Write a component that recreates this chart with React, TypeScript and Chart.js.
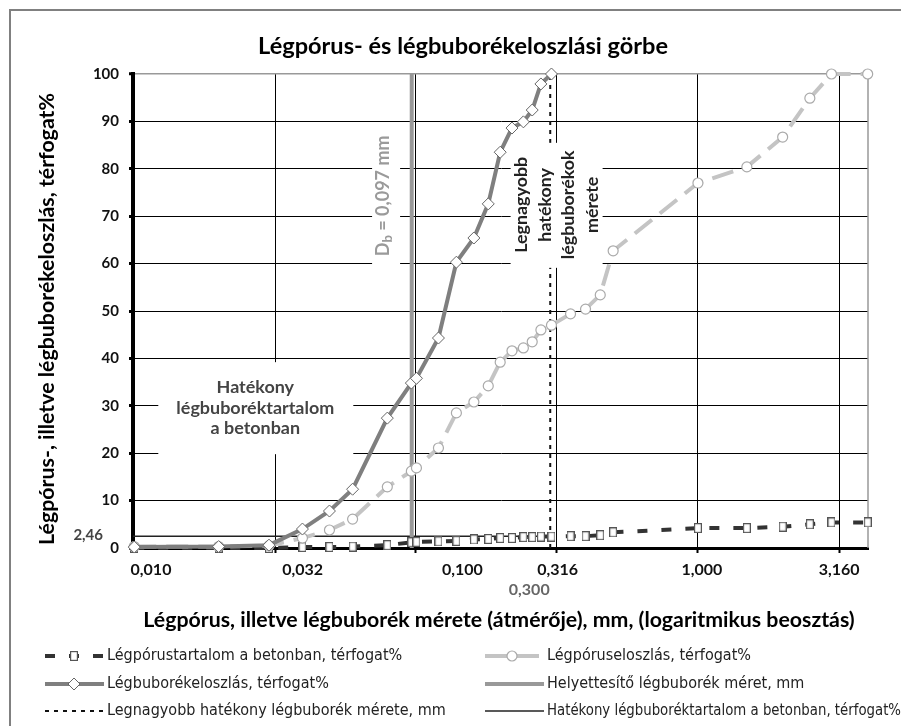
import React, { useEffect, useRef } from 'react';
import { Chart, registerables } from 'chart.js';

Chart.register(...registerables);

// ---------- data ----------
const poreSizes = [0.0101, 0.0201, 0.0303, 0.0398, 0.0496, 0.0599, 0.0795, 0.0967, 0.1008, 0.1206, 0.1396, 0.161, 0.181, 0.1995, 0.2196, 0.241, 0.259, 0.278, 0.303, 0.354, 0.40, 0.451, 0.501, 1.0, 1.49, 1.995, 2.49, 2.97, 3.99];
const poreContent = [0, 0, 0, 0.2, 0.2, 0.3, 0.6, 1.2, 1.3, 1.4, 1.5, 1.8, 1.9, 2.1, 2.1, 2.3, 2.3, 2.4, 2.4, 2.5, 2.5, 2.7, 3.3, 4.2, 4.2, 4.5, 5.0, 5.4, 5.4];
const poreDistribution = [0.3, 0.3, 0.5, 2.1, 3.8, 6.1, 12.9, 16.2, 16.9, 21.1, 28.5, 30.8, 34.2, 39.2, 41.6, 42.2, 43.5, 46.0, 47.0, 49.4, 50.4, 53.4, 62.7, 77.0, 80.4, 86.7, 94.9, 100, 100];
const bubbleSizes = [0.0101, 0.0201, 0.0303, 0.0398, 0.0496, 0.0599, 0.0795, 0.0967, 0.1008, 0.1206, 0.1396, 0.161, 0.181, 0.1995, 0.2196, 0.241, 0.259, 0.278, 0.303];
const bubbleDistribution = [0.2, 0.3, 0.6, 4.0, 7.8, 12.4, 27.4, 34.8, 35.8, 44.3, 60.3, 65.4, 72.6, 83.5, 88.6, 89.9, 92.4, 97.9, 100];
const substituteSize = 0.097; // D_b, mm
const maxEffectiveSize = 0.3; // mm
const effectiveContent = 2.46; // térfogat%
const effectiveRange = [0.01, 0.3];

const xTickValues = [0.01, 0.032, 0.1, 0.316, 1, 3.16];
const xTickLabels = ['0,010', '0,032', '0,100', '0,316', '1,000', '3,160'];
const yTickStep = 10;

const seriesLabels = [
  'Légpórustartalom a betonban, térfogat%',
  'Légpóruseloszlás, térfogat%',
  'Légbuborékeloszlás, térfogat%',
  'Helyettesítő légbuborék méret, mm',
  'Legnagyobb hatékony légbuborék mérete, mm',
  'Hatékony légbuboréktartalom a betonban, térfogat%',
];

const titleText = 'Légpórus- és légbuborékeloszlási görbe';
const yTitleText = 'Légpórus-, illetve légbuborékeloszlás, térfogat%';
const xTitleText = 'Légpórus, illetve légbuborék mérete (átmérője), mm, (logaritmikus beosztás)';
const effectiveContentLines = ['Hatékony', 'légbuboréktartalom', 'a betonban'];
const maxSizeLines = ['Legnagyobb', 'hatékony', 'légbuborékok', 'mérete'];

// ---------- style / layout ----------
const FONT = 'Lato, "Open Sans", "DejaVu Sans", sans-serif';
const LEG_FONT = '"Liberation Sans Narrow", "DejaVu Sans Condensed", "Noto Sans", sans-serif';
const xLabelShift = [18, 27, 47, 1, 4, 0];
const DOTTED_INDEX = 4;

function fitFont(ctx: CanvasRenderingContext2D, text: string, target: number, weight = 'bold', family = FONT) {
  ctx.font = `${weight} 20px ${family}`;
  const w = ctx.measureText(text).width || 1;
  const size = (20 * target) / w;
  ctx.font = `${weight} ${size}px ${family}`;
  return size;
}

function makeRectMarker(w: number, h: number, stroke: string) {
  const c = document.createElement('canvas');
  c.width = w;
  c.height = h;
  const g = c.getContext('2d')!;
  g.fillStyle = '#fff';
  g.fillRect(0, 0, w, h);
  g.strokeStyle = stroke;
  g.lineWidth = 1.2;
  g.strokeRect(0.6, 0.6, w - 1.2, h - 1.2);
  return c;
}

function drawMarker(ctx: CanvasRenderingContext2D, ds: any, x: number, y: number) {
  const st = ds.pointStyle;
  const r = ds.pointRadius || 0;
  if (!r) return;
  if (st && typeof st !== 'string') {
    ctx.drawImage(st, x - st.width / 2, y - st.height / 2);
    return;
  }
  ctx.save();
  ctx.fillStyle = ds.pointBackgroundColor || '#fff';
  ctx.strokeStyle = ds.pointBorderColor || '#666';
  ctx.lineWidth = ds.pointBorderWidth || 1;
  ctx.setLineDash([]);
  ctx.beginPath();
  if (st === 'rectRot') {
    ctx.moveTo(x, y - r);
    ctx.lineTo(x + r, y);
    ctx.lineTo(x, y + r);
    ctx.lineTo(x - r, y);
    ctx.closePath();
  } else {
    ctx.arc(x, y, r, 0, Math.PI * 2);
  }
  ctx.fill();
  ctx.stroke();
  ctx.restore();
}

const decorPlugin = {
  id: 'decor',
  beforeDraw(chart: any) {
    const ctx = chart.ctx as CanvasRenderingContext2D;
    ctx.save();
    ctx.fillStyle = '#fff';
    ctx.fillRect(0, 0, chart.width, chart.height);
    ctx.strokeStyle = '#808080';
    ctx.lineWidth = 2;
    ctx.beginPath();
    ctx.moveTo(10, chart.height);
    ctx.lineTo(10, 10);
    ctx.lineTo(chart.width, 10);
    ctx.stroke();
    ctx.restore();
  },
  beforeDatasetsDraw(chart: any) {
    const ctx = chart.ctx as CanvasRenderingContext2D;
    const a = chart.chartArea;
    ctx.save();
    ctx.strokeStyle = '#999';
    ctx.lineWidth = 1.5;
    ctx.beginPath();
    ctx.moveTo(a.right, a.top);
    ctx.lineTo(a.right, a.bottom);
    ctx.stroke();
    ctx.restore();
  },
  afterDatasetDraw(chart: any, args: any) {
    if (args.index !== DOTTED_INDEX) return;
    const ctx = chart.ctx as CanvasRenderingContext2D;
    const xs = chart.scales.x;
    const ys = chart.scales.y;
    ctx.save();
    ctx.setLineDash([]);

    // "Hatékony légbuboréktartalom a betonban"
    let cx = xs.getPixelForValue(0.0271);
    let cy = ys.getPixelForValue(29.5);
    ctx.fillStyle = '#fff';
    ctx.fillRect(cx - 97, cy - 46, 195, 92);
    ctx.fillStyle = '#444';
    fitFont(ctx, effectiveContentLines[1], 158);
    ctx.textAlign = 'center';
    ctx.textBaseline = 'middle';
    effectiveContentLines.forEach((t, i) => {
      ctx.fillText(t, cx, cy + (i - 1) * 20.5);
    });

    // D_b = 0,097 mm
    cx = xs.getPixelForValue(0.0768);
    cy = ys.getPixelForValue(74.3);
    ctx.fillStyle = '#fff';
    ctx.fillRect(cx - 11, cy - 68, 28, 140);
    ctx.save();
    ctx.translate(cx, cy);
    ctx.rotate(-Math.PI / 2);
    ctx.fillStyle = '#9a9a9a';
    ctx.textAlign = 'left';
    ctx.textBaseline = 'middle';
    const big = `bold 18px ${FONT}`;
    const small = `bold 13px ${FONT}`;
    ctx.font = big;
    const wD = ctx.measureText('D').width;
    const wRest = ctx.measureText(' = 0,097 mm').width;
    ctx.font = small;
    const wb = ctx.measureText('b').width;
    let u = -(wD + wb + wRest) / 2;
    ctx.font = big;
    ctx.fillText('D', u, 0);
    u += wD;
    ctx.font = small;
    ctx.fillText('b', u, 5);
    u += wb;
    ctx.font = big;
    ctx.fillText(' = 0,097 mm', u, 0);
    ctx.restore();

    // Legnagyobb hatékony légbuborékok mérete
    cx = xs.getPixelForValue(0.316);
    cy = ys.getPixelForValue(72.4);
    ctx.fillStyle = '#fff';
    ctx.fillRect(cx - 46, cy - 62, 92, 125);
    ctx.save();
    ctx.translate(cx, cy);
    ctx.rotate(-Math.PI / 2);
    ctx.fillStyle = '#222';
    fitFont(ctx, maxSizeLines[0], 96);
    ctx.textAlign = 'center';
    ctx.textBaseline = 'middle';
    maxSizeLines.forEach((t, i) => {
      ctx.fillText(t, 0, (i - 1.5) * 23.5);
    });
    ctx.restore();
    ctx.restore();
  },
  afterDraw(chart: any) {
    const ctx = chart.ctx as CanvasRenderingContext2D;
    const xs = chart.scales.x;
    const ys = chart.scales.y;
    const a = chart.chartArea;
    ctx.save();
    ctx.setLineDash([]);
    ctx.textBaseline = 'middle';

    // title
    ctx.fillStyle = '#000';
    ctx.textAlign = 'center';
    fitFont(ctx, titleText, 410);
    ctx.fillText(titleText, 463, 46);

    // x tick labels
    ctx.font = `bold 16px ${FONT}`;
    ctx.fillStyle = '#111';
    xTickValues.forEach((v, i) => {
      ctx.fillText(xTickLabels[i], xs.getPixelForValue(v) + xLabelShift[i], a.bottom + 22);
    });
    // 0,300 label
    ctx.fillStyle = '#666';
    ctx.fillText('0,300', xs.getPixelForValue(maxEffectiveSize) - 21, a.bottom + 42);
    // 2,46 label
    ctx.textAlign = 'right';
    ctx.fillStyle = '#444';
    ctx.font = `bold 15px ${FONT}`;
    ctx.fillText('2,46', a.left - 30, ys.getPixelForValue(effectiveContent) - 1);

    // x title
    ctx.textAlign = 'center';
    ctx.fillStyle = '#000';
    fitFont(ctx, xTitleText, 712);
    ctx.fillText(xTitleText, 499, 620);

    // y title
    ctx.save();
    ctx.translate(47, 319);
    ctx.rotate(-Math.PI / 2);
    fitFont(ctx, yTitleText, 452);
    ctx.fillText(yTitleText, 0, 0);
    ctx.restore();

    // legend
    const rows = [656, 684, 711];
    const cols = [
      { x0: 45, x1: 104, tx: 107, mx: 74 },
      { x0: 485, x1: 544, tx: 547, mx: 512 },
    ];
    chart.data.datasets.forEach((ds: any, i: number) => {
      const c = cols[i % 2];
      const y = rows[Math.floor(i / 2)];
      ctx.save();
      ctx.strokeStyle = ds.borderColor;
      ctx.lineWidth = ds.borderWidth;
      ctx.setLineDash(ds.borderDash || []);
      ctx.beginPath();
      ctx.moveTo(c.x0, y);
      ctx.lineTo(c.x1, y);
      ctx.stroke();
      ctx.restore();
      drawMarker(ctx, ds, c.mx, y);
      ctx.fillStyle = '#222';
      ctx.textAlign = 'left';
      ctx.font = `16px ${LEG_FONT}`;
      ctx.fillText(ds.label, c.tx, y, 354);
    });
    ctx.restore();
  },
};

export default function App() {
  const ref = useRef<HTMLCanvasElement>(null);
  useEffect(() => {
    const canvas = ref.current!;
    const rectImg = makeRectMarker(8, 10, '#555');
    const pts = (xsArr: number[], ysArr: number[]) => xsArr.map((x, i) => ({ x, y: ysArr[i] }));
    const chart = new Chart(canvas, {
      type: 'line',
      data: {
        datasets: [
          {
            label: seriesLabels[0],
            data: pts(poreSizes, poreContent),
            borderColor: '#333',
            borderWidth: 4,
            borderDash: [10, 14],
            pointStyle: rectImg as any,
            pointRadius: 5,
            backgroundColor: '#fff',
            order: 3,
            clip: false as any,
          },
          {
            label: seriesLabels[1],
            data: pts(poreSizes, poreDistribution),
            borderColor: '#c4c4c4',
            borderWidth: 4,
            borderDash: [22, 10],
            pointStyle: 'circle',
            pointRadius: 5,
            pointBackgroundColor: '#fff',
            pointBorderColor: '#aaa',
            pointBorderWidth: 1.2,
            backgroundColor: '#fff',
            order: 2,
            clip: false as any,
          },
          {
            label: seriesLabels[2],
            data: pts(bubbleSizes, bubbleDistribution),
            borderColor: '#7f7f7f',
            borderWidth: 4,
            tension: 0,
            pointStyle: 'rectRot',
            pointRadius: 6,
            pointBackgroundColor: '#fff',
            pointBorderColor: '#666',
            pointBorderWidth: 1,
            backgroundColor: '#fff',
            order: 1,
            clip: false as any,
          },
          {
            label: seriesLabels[3],
            data: [{ x: substituteSize, y: 0 }, { x: substituteSize, y: 100 }],
            borderColor: '#999',
            borderWidth: 4,
            pointRadius: 0,
            order: 8,
          },
          {
            label: seriesLabels[4],
            data: [{ x: maxEffectiveSize, y: 0 }, { x: maxEffectiveSize, y: 100 }],
            borderColor: '#111',
            borderWidth: 2,
            borderDash: [4, 5],
            pointRadius: 0,
            order: 10,
          },
          {
            label: seriesLabels[5],
            data: [{ x: effectiveRange[0], y: effectiveContent }, { x: effectiveRange[1], y: effectiveContent }],
            borderColor: '#222',
            borderWidth: 1.5,
            pointRadius: 0,
            order: 9,
          },
        ] as any,
      },
      options: {
        responsive: false,
        animation: false,
        events: [],
        layout: { padding: { left: 0, top: 74, right: 33, bottom: 158 } },
        plugins: { legend: { display: false }, title: { display: false }, tooltip: { enabled: false } },
        scales: {
          x: {
            type: 'logarithmic',
            min: 0.01,
            max: 4,
            afterBuildTicks: (s: any) => {
              s.ticks = xTickValues.map((v) => ({ value: v }));
            },
            afterFit: (s: any) => {
              s.height = 20;
            },
            ticks: { callback: () => '', autoSkip: false, maxRotation: 0 },
            grid: { color: '#000', lineWidth: 1, tickLength: 5, tickWidth: 2, tickColor: '#000' },
            border: { color: '#000', width: 3 },
          },
          y: {
            type: 'linear',
            min: 0,
            max: 100,
            afterFit: (s: any) => {
              s.width = 133;
            },
            ticks: {
              stepSize: yTickStep,
              color: '#111',
              padding: 10,
              font: { family: FONT, weight: 'bold', size: 15 },
            },
            grid: {
              color: (c: any) => (c.tick && c.tick.value === 100 ? '#999' : '#000'),
              lineWidth: (c: any) => (c.tick && c.tick.value === 100 ? 1.5 : 1),
              tickLength: 4,
              tickWidth: 3,
              tickColor: '#000',
            },
            border: { color: '#000', width: 4 },
          },
        } as any,
      },
      plugins: [decorPlugin],
    });
    return () => chart.destroy();
  }, []);
  return (
    <div style={{ position: 'absolute', left: 0, top: 0, width: 901, height: 726, overflow: 'hidden' }}>
      <canvas ref={ref} width={901} height={726} style={{ display: 'block' }} />
    </div>
  );
}
